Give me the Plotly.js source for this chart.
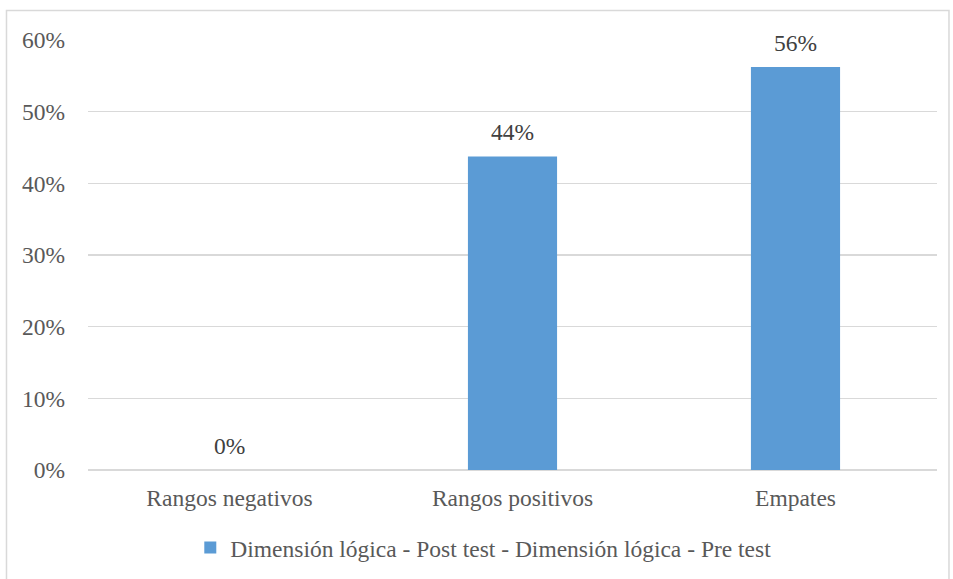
<!DOCTYPE html>
<html>
<head>
<meta charset="utf-8">
<script src="https://cdn.plot.ly/plotly-3.0.1.min.js"></script>
<style>
  html, body { margin: 0; padding: 0; background: #ffffff; }
  #chart { width: 953px; height: 579px; }
</style>
</head>
<body>
<div id="chart"></div>
<script>
// Categories and shares (fractions) for the single series
const categories = ["Rangos negativos", "Rangos positivos", "Empates"];
const shares = [0.0, 0.4375, 0.5625];
const seriesName = "Dimensión lógica - Post test - Dimensión lógica - Pre test";
const yTickValues = [0, 0.1, 0.2, 0.3, 0.4, 0.5, 0.6];

const textColor = "#595959";
const fontFamily = "Liberation Serif";
const fontSize = 23.5;

const trace = {
  type: "bar",
  x: categories,
  y: shares,
  name: seriesName,
  marker: { color: "#5B9BD5" },
  width: 0.315,
  showlegend: true,
  hoverinfo: "x+y"
};

// Value labels placed above each bar, rounded to whole percents
const valueLabels = categories.map((c, i) => ({
  x: c,
  y: shares[i],
  xref: "x",
  yref: "y",
  text: Math.round(shares[i] * 100) + "%",
  showarrow: false,
  yanchor: "bottom",
  yshift: 9,
  font: { family: fontFamily, size: fontSize, color: "#404040" }
}));

const layout = {
  width: 953,
  height: 579,
  margin: { l: 88, r: 16, t: 40, b: 109, autoexpand: false },
  paper_bgcolor: "#ffffff",
  plot_bgcolor: "#ffffff",
  font: { family: fontFamily, size: fontSize, color: textColor },
  bargap: 0.685,
  xaxis: {
    type: "category",
    showgrid: false,
    showline: false,
    ticks: "",
    ticklabelstandoff: 11,
    tickfont: { family: fontFamily, size: fontSize, color: textColor },
    fixedrange: true
  },
  yaxis: {
    range: [0, 0.6],
    tickvals: yTickValues,
    tickformat: ".0%",
    showgrid: true,
    gridcolor: "#D9D9D9",
    gridwidth: 1.3,
    zeroline: true,
    zerolinecolor: "#D9D9D9",
    zerolinewidth: 1.3,
    showline: false,
    ticks: "",
    ticklabelstandoff: 22,
    tickfont: { family: fontFamily, size: fontSize, color: textColor },
    fixedrange: true
  },
  legend: {
    orientation: "h",
    x: 0.4656,
    xanchor: "center",
    y: -0.181,
    yanchor: "middle",
    font: { family: fontFamily, size: fontSize, color: textColor },
    itemwidth: 30
  },
  annotations: valueLabels,
  shapes: [{
    type: "rect",
    xref: "paper",
    yref: "paper",
    x0: -0.096, x1: 1.0141,
    y0: -0.26, y1: 1.0686,
    line: { color: "#D9D9D9", width: 1.5 },
    fillcolor: "rgba(0,0,0,0)",
    layer: "below"
  }]
};

Plotly.newPlot("chart", [trace], layout, { displayModeBar: false, staticPlot: true });
</script>
</body>
</html>
